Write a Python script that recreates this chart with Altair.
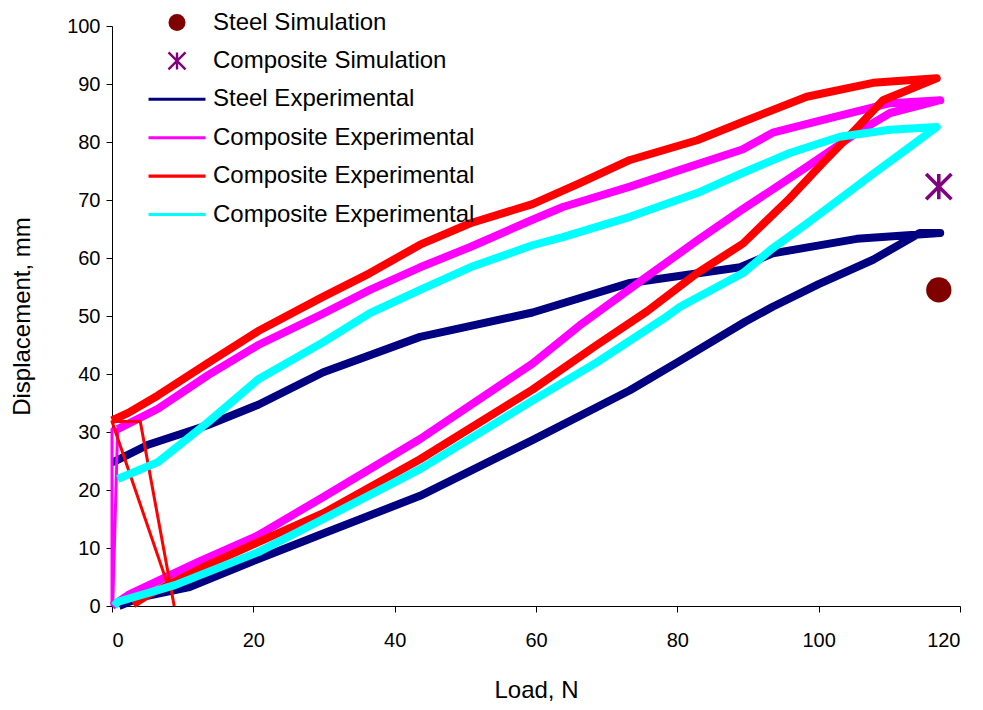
import altair as alt
import pandas as pd

FONT = "Liberation Sans"

# ---------------- data ----------------
keys = ["steel_sim", "comp_sim", "steel_exp", "comp_exp_1", "comp_exp_2", "comp_exp_3"]
colors = ["#800000", "#800080", "#000080", "#FF00FF", "#FF0000", "#00FFFF"]

sim_keys = ["steel_sim", "comp_sim"]
sim_x = [117.0, 117.0]
sim_y = [54.5, 72.3]

steel_exp_x = [1, 4, 10.8, 20.7, 29.9, 43.6, 59.5, 73.3, 80, 89.6, 93.5, 100, 107.7, 114.3, 117.2,
               105.4, 93.5, 88.9, 73.3, 59.5, 43.6, 29.9, 20.7, 13.6, 5.1, 0.5, 0]
steel_exp_y = [0, 1.5, 3.2, 8.1, 12.5, 19, 28.6, 37.2, 42, 49, 51.6, 55.5, 59.7, 64.3, 64.3,
               63.3, 60.8, 58.4, 55.7, 50.6, 46.4, 40.3, 34.7, 31.2, 27.8, 25, 24.8]

# composite 1 (magenta): loop, plus the two near-vertical jumps at zero load
comp1_x = [0, 2.3, 12.2, 20.7, 29.9, 43.6, 59.5, 66.2, 68.6, 75.7, 82.8, 89.1, 98.3, 105.4, 110.1, 117.2,
           110.1, 100.6, 93.5, 89.2, 80.4, 73.3, 63.8, 59.5, 50.7, 43.6, 36.5, 29.7, 20.7, 13.6, 6.5, 0.8]
comp1_y = [0, 1.9, 7.6, 12.2, 18.8, 28.8, 41.8, 48.4, 50.5, 56.8, 63, 68.3, 75.7, 81.6, 85, 87.2,
           86.7, 83.8, 81.6, 78.7, 75.2, 72.3, 68.8, 66.6, 61.9, 58.4, 54.5, 50.3, 45, 39.8, 34, 30.5]
comp1_jump_x = [0, 0, 0.8, 0.1]
comp1_jump_y = [0, 30.5, 30.5, 0]

# composite 2 (red): loop, plus the straight jumps near zero load
comp2_x = [3.0, 5.1, 13.6, 20.7, 29.9, 43.6, 59.5, 68.6, 75.7, 82.8, 89.3, 95.9, 100.6,
           105.4, 109.1, 116.7, 107.7, 98.3, 89.3, 82.8, 73.3, 66.2, 59.5, 50.7, 43.6, 36.5, 29.7, 20.7,
           13.6, 6.5, 2.3, 0]
comp2_y = [0.3, 1.9, 7.1, 11, 16, 25.3, 37.3, 45, 50.8, 57.4, 62.5, 70.3, 76.4,
           82.4, 87.2, 91, 90.2, 87.8, 83.5, 80.3, 76.9, 72.9, 69.3, 66, 62.3, 57.4, 53.2, 47.4,
           41.9, 36.3, 33.3, 32]
comp2_jump_x = [8.8, 4.0, 0, 7.9, 3.0]
comp2_jump_y = [0, 31.8, 31.8, 3.6, 0.3]

comp3_x = [0.3, 0.8, 8.9, 20.7, 29.9, 43.6, 59.5, 68.6, 78, 80.4, 89.3, 93.5, 98.3, 103, 107.7, 112.5, 116.7,
           110.1, 103, 95.9, 89.3, 82.8, 73.3, 63.8, 59.5, 50.7, 43.6, 36.5, 29.9, 20.7, 13.6, 6.5, 0.8]
comp3_y = [0, 0.7, 3.6, 9.3, 15, 23.6, 35.4, 42, 49.5, 51.6, 57.4, 61.7, 65.9, 70.2, 74.5, 78.8, 82.6,
           82.1, 80.9, 78.1, 74.7, 71.2, 67.1, 63.6, 62.2, 58.4, 54.5, 50.5, 45.5, 39.1, 31.7, 24.8, 21.9]

x_ticks = [0, 20, 40, 60, 80, 100, 120]
y_ticks = [0, 10, 20, 30, 40, 50, 60, 70, 80, 90, 100]

# ---------------- legend symbol shapes ----------------
ASTERISK = ("M-0.9,-1.1L1.1,0.9L0.9,1.1L-1.1,-0.9Z "
            "M-1.1,0.9L0.9,-1.1L1.1,-0.9L-0.9,1.1Z "
            "M-0.14,-1H0.14V1H-0.14Z")
LINE = "M-3.35,-0.18H3.35V0.18H-3.35Z"
shapes = ["circle", ASTERISK, LINE, LINE, LINE, LINE]

label_expr = ("datum.value == 'steel_sim' ? 'Steel Simulation' : "
              "datum.value == 'comp_sim' ? 'Composite Simulation' : "
              "datum.value == 'steel_exp' ? 'Steel Experimental' : 'Composite Experimental'")

color_scale = alt.Scale(domain=keys, range=colors)
shape_scale = alt.Scale(domain=keys, range=shapes)

x_enc = alt.X("x:Q", scale=alt.Scale(domain=[0, 120], nice=False),
              axis=alt.Axis(values=x_ticks, title="Load, N", labelPadding=18, titlePadding=28))
y_enc = alt.Y("y:Q", scale=alt.Scale(domain=[0, 100], nice=False),
              axis=alt.Axis(values=y_ticks, title="Displacement, mm", labelPadding=6, titlePadding=32))

legend = alt.Legend(title=None, labelExpr=label_expr)


def exp_line(key, xs, ys, width=8):
    df = pd.DataFrame({"key": key, "i": list(range(len(xs))), "x": xs, "y": ys})
    return alt.Chart(df).mark_line(strokeWidth=width, strokeJoin="round", strokeCap="butt").encode(
        x=x_enc, y=y_enc,
        color=alt.value(colors[keys.index(key)]),
        order="i:Q",
    )


sim_df = pd.DataFrame({"key": sim_keys, "x": sim_x, "y": sim_y})
points = alt.Chart(sim_df).mark_point(filled=True, size=640, opacity=1, strokeWidth=0).encode(
    x=x_enc, y=y_enc,
    color=alt.Color("key:N", scale=color_scale, legend=legend),
    shape=alt.Shape("key:N", scale=shape_scale, legend=legend),
)

chart = alt.layer(
    exp_line("steel_exp", steel_exp_x, steel_exp_y),
    exp_line("comp_exp_1", comp1_jump_x, comp1_jump_y, 3),
    exp_line("comp_exp_1", comp1_x, comp1_y),
    exp_line("comp_exp_2", comp2_jump_x, comp2_jump_y, 3),
    exp_line("comp_exp_2", comp2_x, comp2_y),
    exp_line("comp_exp_3", comp3_x, comp3_y),
    points,
).properties(
    width=848, height=580,
    autosize=alt.AutoSizeParams(type="none"),
    padding={"left": 104, "top": 18, "right": 15, "bottom": 96},
).configure_view(stroke=None).configure_axis(
    grid=False, domainColor="black", tickColor="black", labelColor="black", titleColor="black",
    labelFont=FONT, titleFont=FONT, labelFontSize=20, titleFontSize=24, titleFontWeight="normal",
    tickSize=6, domainWidth=1, tickWidth=1,
).configure_legend(
    orient="none", legendX=53, legendY=-15.5, padding=0,
    labelFont=FONT, labelFontSize=24, labelColor="black", labelLimit=500, labelOffset=24,
    symbolSize=289, symbolStrokeWidth=0, symbolOpacity=1, rowPadding=14.4,
)

chart.save("out.html", embed_options={"renderer": "svg", "actions": False})
